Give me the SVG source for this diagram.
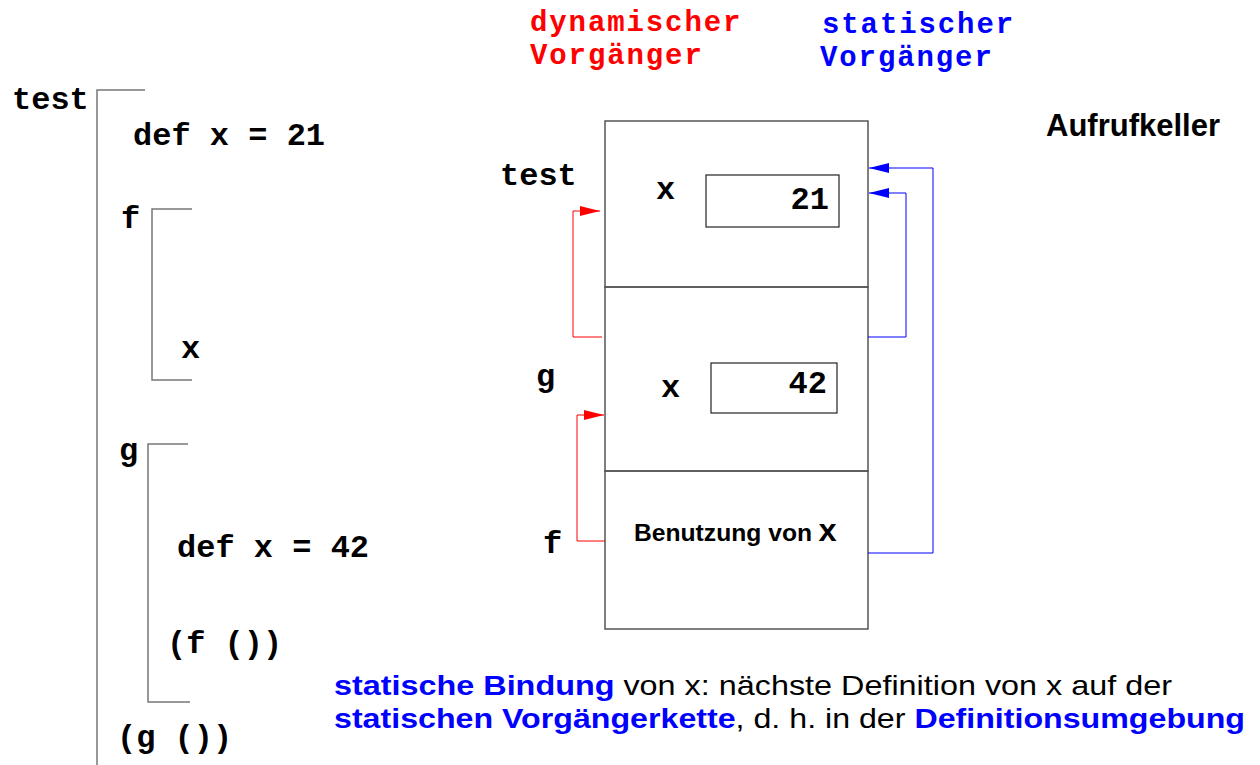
<svg xmlns="http://www.w3.org/2000/svg" width="1260" height="765" viewBox="0 0 1260 765">
<style>
.code{font-family:"Liberation Mono","Courier New",monospace;font-weight:bold;font-size:32px;fill:#000}
.leg{font-family:"Liberation Mono","Courier New",monospace;font-weight:bold;font-size:29px;letter-spacing:1.9px}
.red{fill:#ff0000}
.blue{fill:#0000ff}
.sans{font-family:"Liberation Sans",Arial,sans-serif}
.br{fill:none;stroke:#777;stroke-width:1.5}
.box{fill:none;stroke:#555;stroke-width:1.5}
.ibox{fill:none;stroke:#222;stroke-width:1.2}
.rl{fill:none;stroke:#ff0000;stroke-width:1}
.bl{fill:none;stroke:#0000ff;stroke-width:1}
</style>
<defs>
<marker id="ar" markerWidth="20" markerHeight="12" refX="20" refY="6" orient="auto" markerUnits="userSpaceOnUse"><path d="M0,1 L20,6 L0,11 z" fill="#ff0000"/></marker>
<marker id="ab" markerWidth="20" markerHeight="12" refX="20" refY="6" orient="auto" markerUnits="userSpaceOnUse"><path d="M0,1 L20,6 L0,11 z" fill="#0000ff"/></marker>
</defs>
<rect width="1260" height="765" fill="#fff"/>

<g id="program">
<text class="code" x="12" y="109">test</text>
<path class="br" d="M145,90 H97 V765"/>
<text class="code" x="133" y="145">def x = 21</text>
<text class="code" x="121" y="228">f</text>
<path class="br" d="M192,209 H152 V380 H192"/>
<text class="code" x="181" y="358">x</text>
<text class="code" x="119" y="460">g</text>
<path class="br" d="M188,444 H148 V702 H190"/>
<text class="code" x="177" y="557">def x = 42</text>
<text class="code" x="167" y="653">(f ())</text>
<text class="code" x="117" y="747">(g ())</text>
</g>

<g id="legend">
<text class="leg red" x="530" y="31">dynamischer</text>
<text class="leg red" x="530" y="64">Vorgänger</text>
<text class="leg blue" x="822" y="33">statischer</text>
<text class="leg blue" x="820" y="66">Vorgänger</text>
<text class="sans" x="1046" y="136" font-size="31" font-weight="bold">Aufrufkeller</text>
</g>

<g id="frame-test">
<rect class="box" x="605" y="121" width="263" height="166"/>
<text class="code" x="500" y="185">test</text>
<text class="code" x="656" y="199">x</text>
<rect class="ibox" x="706" y="175" width="133" height="52"/>
<text class="code" x="829" y="209" text-anchor="end">21</text>
</g>
<g id="frame-g">
<rect class="box" x="605" y="287" width="263" height="184"/>
<text class="code" x="536" y="386">g</text>
<text class="code" x="661" y="397">x</text>
<rect class="ibox" x="711" y="363" width="126" height="50"/>
<text class="code" x="827" y="393" text-anchor="end">42</text>
</g>
<g id="frame-f">
<rect class="box" x="605" y="471" width="263" height="158"/>
<text class="code" x="543" y="553">f</text>
<text class="sans" x="634" y="541" font-size="23" font-weight="bold" textLength="178" lengthAdjust="spacingAndGlyphs">Benutzung von</text>
<text class="code" x="818" y="541">x</text>
</g>

<g id="connectors">
<path class="rl" d="M602,337 H573 V211 H600" marker-end="url(#ar)"/>
<path class="rl" d="M605,541 H577 V415 H604" marker-end="url(#ar)"/>
<path class="bl" d="M868,337 H906 V193 H869" marker-end="url(#ab)"/>
<path class="bl" d="M868,553 H933 V168 H869" marker-end="url(#ab)"/>
</g>

<g id="caption" class="sans" font-size="28">
<text x="334" y="695" textLength="838" lengthAdjust="spacingAndGlyphs"><tspan class="blue" font-weight="bold">statische Bindung</tspan> von x: nächste Definition von x auf der</text>
<text x="334" y="728" textLength="911" lengthAdjust="spacingAndGlyphs"><tspan class="blue" font-weight="bold">statischen Vorgängerkette</tspan>, d. h. in der <tspan class="blue" font-weight="bold">Definitionsumgebung</tspan></text>
</g>
</svg>
